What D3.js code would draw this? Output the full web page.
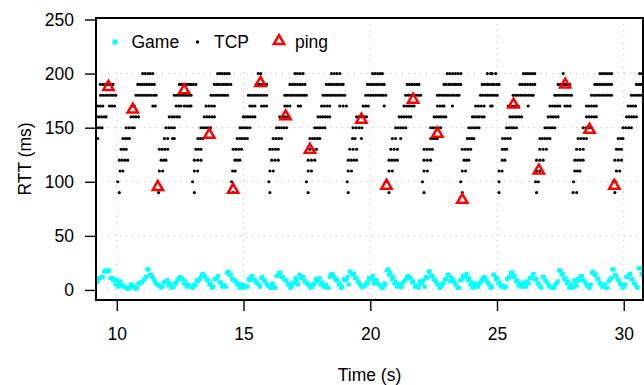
<!DOCTYPE html>
<html>
<head>
<meta charset="utf-8">
<script src="https://cdn.jsdelivr.net/npm/d3@7"></script>
<style>
body { margin: 0; background: #fff; }
text { font-family: "Liberation Sans", Arial, sans-serif; }
</style>
</head>
<body>
<svg width="644" height="385"></svg>
<script>
var width = 644;
var height = 385;

// ping samples (s, ms), one a second, two lost
var pingTime = [9.67, 10.63, 11.62, 12.66, 13.65, 14.59, 15.67, 16.66, 17.62, 19.65,
	20.64, 21.69, 22.65, 23.63, 25.65, 26.65, 27.69, 28.65, 29.63];
var pingRtt = [187.7, 166.7, 95.1, 184.5, 143.5, 92.6, 191.4, 160.5, 129.6, 157.4,
	96.3, 175.9, 144.4, 83.3, 171.3, 110.5, 189.8, 148.1, 96.3];

// TCP rtt is quantised to 10 ms, one row of sample times per level
var tcpLevels = [200, 190, 180, 170, 160, 150, 140, 130, 120, 110, 100, 90];
var tcpTimes = [
	// 200
	[11.02, 11.12, 11.22, 11.32, 11.42, 13.98, 14.07, 14.16, 14.25, 14.34, 14.43, 15.58, 15.68,
	17.03, 17.13, 17.24, 17.35, 18.47, 18.58, 18.69, 18.80, 20.09, 20.19, 20.29, 20.39, 20.48,
	23.04, 23.14, 23.25, 23.36, 23.46, 23.57, 24.62, 24.75, 24.81, 24.95, 26.04, 26.13, 26.22,
	26.31, 26.40, 26.49, 27.61, 29.06, 29.15, 29.24, 29.33, 29.43, 29.52, 30.63, 30.73],
	// 190
	[9.35, 9.45, 9.55, 9.65, 9.75, 9.85, 10.83, 10.92, 11.01, 11.10, 11.20, 11.29, 11.38, 11.48,
	12.47, 12.56, 12.65, 12.75, 12.84, 12.93, 13.02, 13.12, 13.85, 13.94, 14.03, 14.13, 14.22,
	14.31, 14.40, 14.50, 15.51, 15.61, 15.71, 15.81, 15.91, 16.83, 16.93, 17.03, 17.13, 17.23,
	17.32, 17.42, 18.27, 18.36, 18.46, 18.55, 18.65, 18.74, 18.84, 18.93, 19.89, 19.98, 20.08,
	20.17, 20.27, 20.36, 20.46, 20.55, 21.46, 21.55, 21.64, 21.74, 21.83, 21.92, 22.91, 23.00,
	23.10, 23.19, 23.29, 23.38, 23.48, 23.57, 24.42, 24.51, 24.61, 24.70, 24.80, 24.89, 24.99,
	25.08, 25.90, 26.00, 26.10, 26.20, 26.30, 26.40, 26.49, 27.41, 27.50, 27.59, 27.69, 27.78,
	27.87, 28.86, 28.95, 29.05, 29.14, 29.24, 29.33, 29.43, 29.52, 30.50, 30.59, 30.68],
	// 180
	[9.36, 9.46, 9.56, 9.66, 9.76, 9.86, 9.96, 10.76, 10.86, 10.96, 11.06, 11.16, 11.26, 11.36,
	11.46, 11.55, 12.27, 12.36, 12.46, 12.55, 12.65, 12.74, 12.84, 12.93, 13.72, 13.81, 13.91,
	14.00, 14.10, 14.19, 14.28, 14.37, 15.19, 15.29, 15.39, 15.49, 15.59, 15.69, 15.80, 15.91,
	16.63, 16.72, 16.82, 16.91, 17.01, 17.10, 17.20, 17.29, 17.39, 17.48, 18.14, 18.24, 18.33,
	18.43, 18.52, 18.62, 18.71, 18.80, 18.90, 18.99, 19.82, 19.92, 20.02, 20.12, 20.22, 20.32,
	20.42, 20.51, 20.61, 21.40, 21.50, 21.60, 21.70, 21.80, 21.90, 21.99, 22.65, 22.74, 22.84,
	22.93, 23.03, 23.12, 23.22, 23.31, 23.41, 23.50, 24.35, 24.44, 24.54, 24.63, 24.72, 24.82,
	24.91, 25.01, 25.64, 25.74, 25.84, 25.94, 26.04, 26.14, 26.24, 26.34, 26.43, 27.28, 27.37,
	27.47, 27.56, 27.66, 27.75, 27.85, 27.94, 28.73, 28.83, 28.93, 29.03, 29.13, 29.23, 29.33,
	29.43, 29.52, 30.30, 30.40, 30.50, 30.60, 30.70],
	// 170
	[9.25, 9.35, 9.45, 9.71, 9.81, 9.91, 10.63, 10.69, 11.42, 11.52, 12.34, 12.44, 12.53, 12.66,
	12.76, 12.86, 12.93, 13.52, 13.63, 13.74, 13.85, 15.25, 15.35, 15.45, 15.71, 15.81, 15.91,
	16.63, 16.73, 16.83, 17.16, 17.25, 18.08, 18.19, 18.30, 18.40, 18.80, 18.93, 19.06, 19.72,
	19.82, 19.92, 20.55, 21.33, 21.43, 21.53, 21.63, 21.73, 22.65, 22.75, 22.85, 22.91, 23.24,
	24.16, 24.27, 24.38, 24.49, 24.75, 24.81, 25.44, 25.54, 25.64, 25.74, 25.84, 26.23, 27.09,
	27.19, 27.29, 27.39, 27.48, 27.68, 27.78, 27.88, 28.53, 28.63, 28.73, 28.83, 28.92, 30.17,
	30.27, 30.37, 30.47],
	// 160
	[9.20, 9.30, 9.40, 9.50, 9.58, 10.56, 10.66, 10.76, 10.86, 12.07, 12.17, 12.27, 12.37, 12.47,
	13.45, 13.55, 13.65, 13.75, 13.85, 14.99, 15.08, 15.17, 15.26, 15.36, 15.45, 16.43, 16.54,
	16.65, 16.76, 17.94, 18.03, 18.12, 18.21, 18.31, 18.40, 19.46, 19.56, 19.66, 19.76, 19.85,
	21.14, 21.23, 21.32, 21.41, 21.51, 21.60, 22.52, 22.61, 22.70, 22.79, 22.89, 22.98, 24.03,
	24.12, 24.21, 24.30, 24.40, 24.49, 25.51, 25.60, 25.69, 25.78, 25.88, 25.97, 27.02, 27.12,
	27.22, 27.31, 27.41, 28.53, 28.63, 28.73, 28.83, 28.92, 30.11, 30.21, 30.31, 30.40, 30.50],
	// 150
	[9.22, 9.32, 9.42, 10.37, 10.48, 10.59, 10.69, 11.94, 12.05, 12.16, 12.27, 13.32, 13.42,
	13.51, 13.61, 13.70, 14.86, 14.96, 15.06, 15.15, 15.25, 16.30, 16.40, 16.50, 16.60, 16.70,
	17.81, 17.91, 18.01, 18.11, 18.21, 19.32, 19.44, 19.56, 19.67, 21.00, 21.10, 21.20, 21.30,
	21.40, 22.38, 22.48, 22.58, 22.68, 22.78, 23.89, 23.99, 24.09, 24.19, 24.29, 25.38, 25.48,
	25.58, 25.67, 25.77, 26.89, 26.99, 27.09, 27.18, 27.28, 28.40, 28.51, 28.62, 28.73, 29.97,
	30.08, 30.19, 30.30],
	// 140
	[9.25, 10.24, 10.33, 10.42, 10.50, 11.88, 12.01, 12.20, 12.27, 13.20, 13.30, 13.40, 14.75,
	14.85, 14.95, 15.05, 15.15, 16.17, 16.28, 16.39, 16.50, 17.62, 17.72, 17.82, 17.92, 18.01,
	19.30, 19.40, 19.65, 20.87, 21.00, 21.20, 22.38, 22.47, 22.56, 22.65, 23.83, 23.92, 24.01,
	24.09, 25.22, 25.32, 25.42, 25.52, 26.69, 26.79, 26.89, 26.99, 27.09, 28.20, 28.31, 28.42,
	28.53, 29.78, 29.88, 29.97],
	// 130
	[10.17, 10.27, 10.37, 11.68, 11.79, 11.90, 12.01, 13.12, 13.22, 13.32, 14.59, 14.70, 14.81,
	14.92, 16.04, 16.15, 16.26, 16.37, 17.62, 17.75, 17.88, 19.19, 19.32, 19.46, 20.81, 20.94,
	21.07, 22.12, 22.23, 22.34, 22.45, 23.63, 23.74, 23.85, 23.96, 25.21, 25.30, 25.38, 26.69,
	26.82, 26.95, 28.14, 28.27, 28.40, 29.71, 29.81, 29.91],
	// 120
	[10.10, 10.21, 10.32, 10.43, 11.75, 11.85, 11.94, 13.06, 13.19, 13.32, 14.66, 14.76, 14.86,
	16.11, 16.24, 16.37, 17.55, 17.68, 17.81, 19.13, 19.24, 19.35, 19.46, 20.74, 20.85, 20.96,
	21.07, 22.12, 22.25, 22.38, 23.70, 23.80, 23.89, 25.21, 25.31, 26.56, 26.69, 26.82, 28.07,
	28.18, 28.29, 28.40, 29.65, 29.78, 29.91],
	// 110
	[10.13, 10.24, 11.68, 11.81, 13.06, 13.19, 14.57, 14.67, 16.04, 16.17, 17.55, 17.68, 19.13,
	19.26, 20.74, 20.87, 22.12, 22.25, 23.63, 23.76, 25.08, 25.20, 26.56, 26.69, 28.07, 28.17,
	28.27, 29.71, 29.84],
	// 100
	[10.04, 11.61, 12.99, 14.53, 16.00, 17.48, 19.09, 20.68, 22.06, 23.57, 25.08, 26.52, 26.63,
	28.02, 29.58, 29.68],
	// 90
	[10.10, 11.65, 13.06, 14.59, 16.04, 17.55, 19.13, 20.74, 22.12, 23.63, 25.08, 26.56, 28.00,
	28.14, 29.65]
];

// game traffic rtt (ms): two interleaved streams, 0.1 s apart each,
// stream A from 9.20 s and stream B from 9.25 s, one row per second
var gameStart = 9.2;
var gameStep = 0.1;
var gameRttA = [
	7, 11, 12, 17, 18, 18, 11, 10, 9, 6,
	4, 3, 2, 2, 4, 3, 2, 6, 7, 10,
	19, 14, 12, 8, 5, 4, 3, 7, 9, 6,
	3, 6, 9, 12, 10, 8, 5, 3, 2, 4,
	8, 11, 15, 12, 9, 6, 3, 10, 13, 7,
	5, 3, 17, 14, 10, 8, 6, 4, 2, 3,
	10, 12, 9, 7, 5, 11, 9, 6, 4, 2,
	3, 13, 16, 12, 10, 8, 5, 3, 6, 9,
	14, 11, 8, 6, 4, 3, 5, 8, 11, 7,
	4, 2, 12, 15, 11, 9, 6, 3, 9, 12,
	17, 14, 11, 8, 5, 3, 4, 6, 10, 13,
	9, 6, 4, 2, 5, 19, 16, 12, 8, 5,
	3, 7, 10, 13, 11, 8, 4, 2, 6, 9,
	12, 17, 13, 10, 7, 5, 3, 6, 10, 14,
	11, 8, 4, 2, 9, 12, 15, 11, 7, 4,
	3, 6, 9, 12, 8, 5, 3, 14, 11, 7,
	4, 2, 10, 12, 16, 13, 9, 6, 3, 5,
	8, 11, 14, 10, 6, 3, 12, 9, 6, 3,
	2, 5, 8, 18, 15, 11, 8, 4, 2, 7,
	10, 13, 9, 6, 3, 5, 17, 14, 10, 6,
	4, 2, 8, 11, 19, 13, 9, 5, 3, 12,
	14, 10, 6, 3, 20, 15
];
var gameRttB = [
	8, 11, 12, 18, 17, 11, 9, 5, 3, 8,
	4, 2, 1, 5, 3, 1, 6, 7, 9, 12,
	19, 14, 10, 6, 4, 2, 7, 8, 4, 2,
	3, 7, 11, 10, 6, 3, 4, 3, 5, 9,
	10, 14, 13, 9, 5, 2, 10, 11, 7, 3,
	4, 16, 14, 10, 8, 5, 2, 5, 4, 3,
	9, 13, 9, 6, 3, 12, 8, 4, 2, 6,
	2, 13, 16, 12, 9, 5, 2, 7, 11, 5,
	13, 12, 8, 5, 2, 6, 10, 9, 5, 3,
	5, 2, 14, 13, 9, 5, 2, 10, 9, 5,
	16, 15, 11, 7, 3, 3, 7, 11, 10, 6,
	9, 5, 2, 6, 18, 14, 10, 6, 3, 5,
	3, 8, 12, 11, 7, 3, 4, 8, 7, 3,
	11, 17, 13, 9, 5, 2, 6, 10, 14, 8,
	10, 6, 2, 9, 13, 13, 9, 5, 2, 6,
	3, 7, 11, 10, 6, 2, 14, 10, 6, 3,
	4, 3, 11, 16, 12, 8, 4, 3, 7, 3,
	6, 11, 15, 10, 6, 2, 12, 8, 4, 2,
	2, 6, 18, 14, 10, 6, 2, 5, 9, 4,
	9, 13, 8, 4, 2, 16, 14, 10, 6, 3,
	5, 2, 9, 19, 14, 10, 6, 2, 5, 12,
	15, 10, 6, 2, 20, 14
];

var xTicks = [10, 15, 20, 25, 30];
var yTicks = [0, 50, 100, 150, 200, 250];
var gridY = [0, 50, 100, 150, 200];

// plot box in pixels
var boxL = 96, boxR = 643, boxT = 18, boxB = 300;
var fontSize = '17.5px';

var x = d3.scaleLinear().domain([9.18, 30.76]).range([boxL, boxR]);
var y = d3.scaleLinear().domain([-9.3, 251.4]).range([boxB, boxT]);

var svg = d3.select('svg');

svg.append('clipPath').attr('id', 'plot')
	.append('rect')
	.attr('x', boxL).attr('y', boxT)
	.attr('width', boxR - boxL).attr('height', boxB - boxT);

// dotted grid
svg.append('g')
	.selectAll('line')
	.data(gridY)
	.enter()
	.append('line')
	.attr('x1', boxL).attr('x2', boxR)
	.attr('y1', function(d) {return y(d);})
	.attr('y2', function(d) {return y(d);})
	.style('stroke', '#c4c4c4')
	.style('stroke-dasharray', '1.2,4.8');

svg.append('g')
	.selectAll('line')
	.data(xTicks)
	.enter()
	.append('line')
	.attr('y1', boxT).attr('y2', boxB)
	.attr('x1', function(d) {return x(d);})
	.attr('x2', function(d) {return x(d);})
	.style('stroke', '#c4c4c4')
	.style('stroke-dasharray', '1.2,4.8');

var plot = svg.append('g').attr('clip-path', 'url(#plot)');

// game squares
var game = gameRttA.map(function(v, i) {return {t: gameStart + i * gameStep, rtt: v};})
	.concat(gameRttB.map(function(v, i) {return {t: gameStart + gameStep / 2 + i * gameStep, rtt: v};}));
plot.append('g')
	.selectAll('rect')
	.data(game)
	.enter()
	.append('rect')
	.attr('x', function(d) {return x(d.t) - 2;})
	.attr('y', function(d) {return y(d.rtt) - 2;})
	.attr('width', 4)
	.attr('height', 4)
	.style('fill', '#00ffff');

// tcp dots
var tcp = d3.merge(tcpLevels.map(function(lv, i) {
	return tcpTimes[i].map(function(t) {return {t: t, rtt: lv};});
}));
plot.append('g')
	.selectAll('circle')
	.data(tcp)
	.enter()
	.append('circle')
	.attr('cx', function(d) {return x(d.t);})
	.attr('cy', function(d) {return y(d.rtt);})
	.attr('r', 1.55)
	.style('fill', '#000');

// ping triangles
var tri = d3.symbol().type(d3.symbolTriangle).size(46);
plot.append('g')
	.selectAll('path')
	.data(pingTime)
	.enter()
	.append('path')
	.attr('d', tri)
	.attr('transform', function(d, i) {return 'translate(' + x(d) + ',' + y(pingRtt[i]) + ')';})
	.style('fill', 'none')
	.style('stroke', '#ff0000')
	.style('stroke-width', 2.5);

// axes
var yAxis = svg.append('g')
	.attr('transform', 'translate(' + boxL + ',0)')
	.call(d3.axisLeft(y).tickValues(yTicks).tickSize(11).tickPadding(11));
var xAxis = svg.append('g')
	.attr('transform', 'translate(0,' + boxB + ')')
	.call(d3.axisBottom(x).tickValues(xTicks).tickSize(11).tickPadding(17));

[xAxis, yAxis].forEach(function(a) {
	a.select('.domain').remove();
	a.selectAll('line').style('stroke', '#000').style('stroke-width', 1.4);
	a.selectAll('text')
		.style('font-family', '"Liberation Sans", Arial, sans-serif')
		.style('font-size', fontSize)
		.style('fill', '#000');
});

// box
svg.append('rect')
	.attr('x', boxL).attr('y', boxT)
	.attr('width', boxR - boxL).attr('height', boxB - boxT)
	.style('fill', 'none')
	.style('stroke', '#000')
	.style('stroke-width', 2);

// titles
svg.append('text')
	.attr('x', (boxL + boxR) / 2).attr('y', 381)
	.attr('text-anchor', 'middle')
	.style('font-size', fontSize)
	.text('Time (s)');
svg.append('text')
	.attr('transform', 'translate(31,' + (boxT + boxB) / 2 + ') rotate(-90)')
	.attr('text-anchor', 'middle')
	.style('font-size', fontSize)
	.text('RTT (ms)');

// legend
var legend = svg.append('g');
legend.append('rect')
	.attr('x', boxL + 1).attr('y', boxT + 1)
	.attr('width', 258).attr('height', 50)
	.style('fill', '#fff');
legend.append('rect')
	.attr('x', 112.5).attr('y', 39.5).attr('width', 5).attr('height', 5)
	.style('fill', '#00ffff');
legend.append('circle')
	.attr('cx', 197.5).attr('cy', 42).attr('r', 1.7)
	.style('fill', '#000');
legend.append('path')
	.attr('d', tri)
	.attr('transform', 'translate(279,41)')
	.style('fill', 'none')
	.style('stroke', '#ff0000')
	.style('stroke-width', 2.5);
legend.selectAll('text.lab')
	.data([['Game', 131.5], ['TCP', 214], ['ping', 295]])
	.enter()
	.append('text')
	.attr('class', 'lab')
	.attr('x', function(d) {return d[1];})
	.attr('y', 48)
	.style('font-size', fontSize)
	.text(function(d) {return d[0];});
</script>
</body>
</html>
